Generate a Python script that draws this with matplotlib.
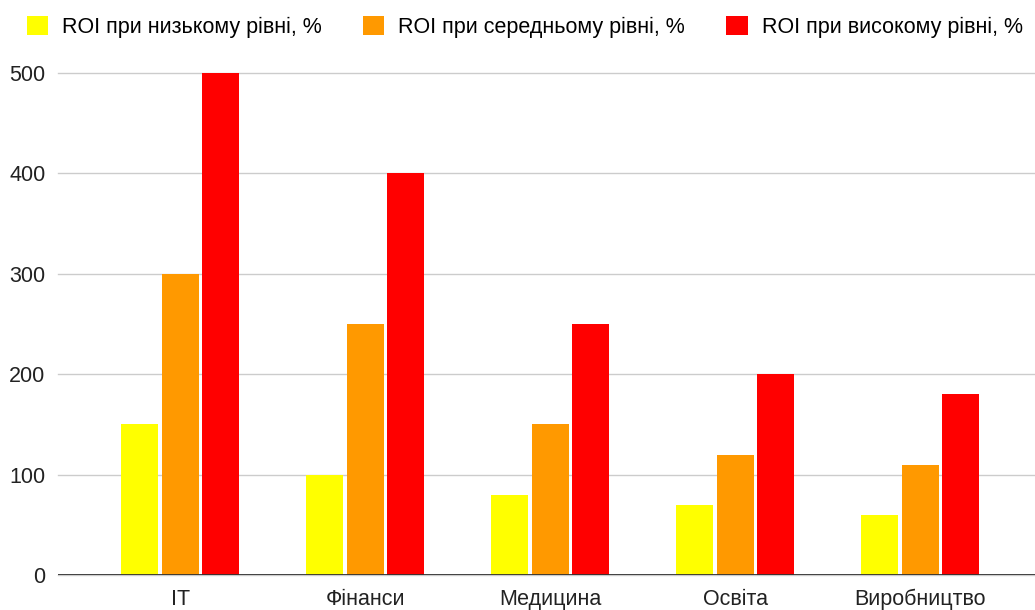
import numpy as np
import matplotlib.pyplot as plt

plt.rcParams['font.family'] = ['Liberation Sans', 'DejaVu Sans']

categories = ['IT', 'Фінанси', 'Медицина', 'Освіта', 'Виробництво']
roi_low = [150, 100, 80, 70, 60]
roi_mid = [300, 250, 150, 120, 110]
roi_high = [500, 400, 250, 200, 180]
series_names = ['ROI при низькому рівні, %', 'ROI при середньому рівні, %',
                'ROI при високому рівні, %']
colors = ['#ffff00', '#ff9900', '#ff0000']

fig = plt.figure(figsize=(10.35, 6.1), dpi=100)
ax = fig.add_axes([58 / 1035, 1 - 575 / 610, 1 - 58 / 1035, (575 - 73) / 610])

x = np.arange(len(categories))
width = 0.2
step = 0.22
for i, (vals, name, c) in enumerate(zip([roi_low, roi_mid, roi_high], series_names, colors)):
    ax.bar(x + (i - 1) * step, vals, width, color=c, label=name, zorder=3)

ax.set_xlim(-0.66, 4.62)
ax.set_ylim(0, 500)
ax.set_yticks([0, 100, 200, 300, 400, 500])
ax.set_xticks(x)
ax.set_xticklabels(categories)
ax.tick_params(length=0, labelsize=15.5, colors='#222222')
ax.tick_params(axis='x', pad=10)
ax.tick_params(axis='y', pad=9)
ax.yaxis.grid(True, color='#cccccc', linewidth=1, zorder=0)
ax.axhline(0, color='#333333', linewidth=1.3, zorder=4)
for s in ax.spines.values():
    s.set_visible(False)
for gl in ax.get_ygridlines():
    gl.set_clip_on(False)

fig.legend(loc='center left', bbox_to_anchor=(16 / 1035, 1 - 27 / 610), ncol=3,
           frameon=False, borderpad=0, fontsize=15.5, handlelength=1.0,
           handleheight=0.95, columnspacing=1.9, handletextpad=0.65)

plt.savefig('out.png', dpi=100)
